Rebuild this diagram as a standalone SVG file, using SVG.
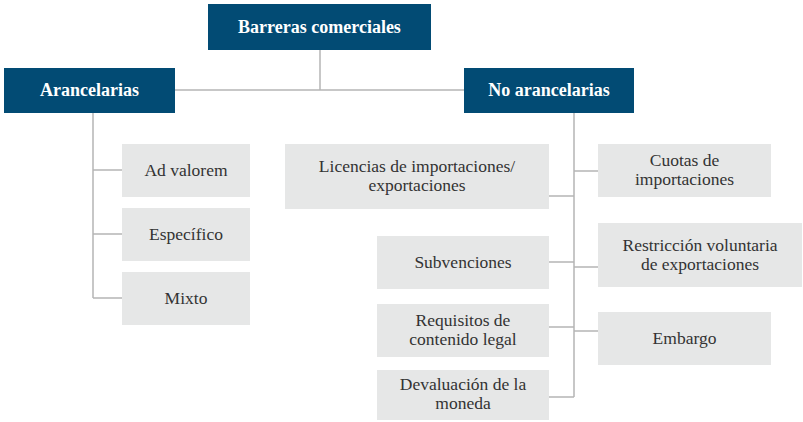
<svg xmlns="http://www.w3.org/2000/svg" width="803" height="422" viewBox="0 0 803 422">
<style>
.hdr{fill:#024b74}
.box{fill:#e6e7e7}
.ht{font-family:'Liberation Serif','DejaVu Serif',serif;font-weight:bold;font-size:18px;fill:#ffffff;text-anchor:middle}
.t{font-family:'Liberation Serif','DejaVu Serif',serif;font-size:17.5px;fill:#333333;text-anchor:middle}
.c{stroke:#b5b5b5;stroke-width:1.5;fill:none}
</style>
<rect width="803" height="422" fill="#ffffff"/>
<g id="connectors" class="c">
<path d="M320,50V90M175,90H464"/>
<path d="M93,113V298M93,170H122M93,234H122M93,298H122"/>
<path d="M574,113V397M574,171H598M574,267H598M574,331H598"/>
<path d="M549,196H574M549,262H574M549,327H574M549,397H574"/>
</g>
<g id="barreras"><rect class="hdr" x="208" y="4" width="223" height="46"/><text class="ht" x="319.5" y="33">Barreras comerciales</text></g>
<g id="arancelarias"><rect class="hdr" x="4" y="68" width="171" height="45"/><text class="ht" x="89.5" y="96">Arancelarias</text></g>
<g id="no-arancelarias"><rect class="hdr" x="464" y="68" width="170" height="45"/><text class="ht" x="549" y="96">No arancelarias</text></g>
<g id="ad-valorem"><rect class="box" x="122" y="144" width="128" height="53"/><text class="t" x="186" y="176">Ad valorem</text></g>
<g id="especifico"><rect class="box" x="122" y="208" width="128" height="53"/><text class="t" x="186" y="240">Específico</text></g>
<g id="mixto"><rect class="box" x="122" y="272" width="128" height="53"/><text class="t" x="186" y="304">Mixto</text></g>
<g id="licencias"><rect class="box" x="285" y="144" width="264" height="65"/><text class="t" x="417" y="172">Licencias de importaciones/</text><text class="t" x="417" y="191">exportaciones</text></g>
<g id="subvenciones"><rect class="box" x="377" y="236" width="172" height="53"/><text class="t" x="463" y="268">Subvenciones</text></g>
<g id="requisitos"><rect class="box" x="377" y="304" width="172" height="53"/><text class="t" x="463" y="326">Requisitos de</text><text class="t" x="463" y="345">contenido legal</text></g>
<g id="devaluacion"><rect class="box" x="377" y="370" width="172" height="50"/><text class="t" x="463" y="390">Devaluación de la</text><text class="t" x="463" y="409">moneda</text></g>
<g id="cuotas"><rect class="box" x="598" y="144" width="173" height="53"/><text class="t" x="684.5" y="166">Cuotas de</text><text class="t" x="684.5" y="185">importaciones</text></g>
<g id="restriccion"><rect class="box" x="598" y="223" width="204" height="64"/><text class="t" x="700" y="251">Restricción voluntaria</text><text class="t" x="700" y="270">de exportaciones</text></g>
<g id="embargo"><rect class="box" x="598" y="312" width="173" height="53"/><text class="t" x="684.5" y="344">Embargo</text></g>
</svg>
